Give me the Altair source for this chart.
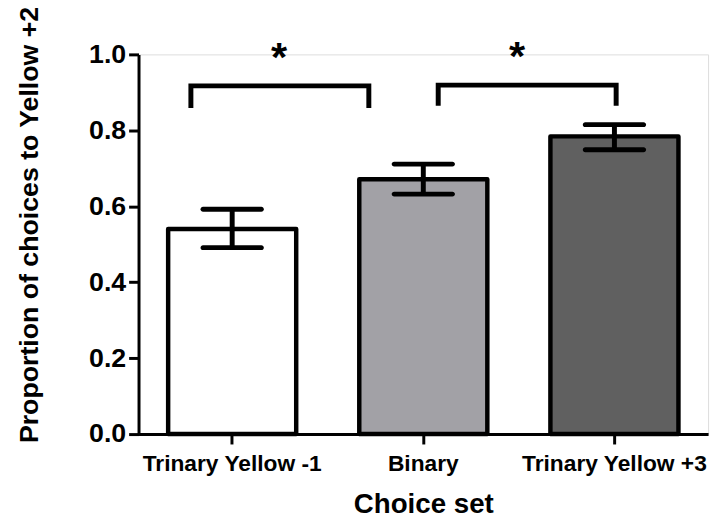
import altair as alt
import pandas as pd

# ---- data ----
categories = ["Trinary Yellow -1", "Binary", "Trinary Yellow +3"]
means = [0.540, 0.671, 0.784]
err_low = [0.491, 0.632, 0.749]
err_high = [0.592, 0.711, 0.815]
fills = ["#FFFFFF", "#A2A1A6", "#606060"]

# significance brackets (x in category-index units, 0 = first bar centre)
br_left = [-0.216, 1.078]
br_right = [0.715, 2.009]
br_top = [0.917, 0.919]
br_bottom = [0.859, 0.865]
star_x = [0.245, 1.491]
star_y = [0.955, 0.960]
star_text = ["*", "*"]

y_ticks = [0.0, 0.2, 0.4, 0.6, 0.8, 1.0]

FONT = "Liberation Sans"

bars_df = pd.DataFrame({"cat": categories, "mean": means, "lo": err_low, "hi": err_high})

br_rows = []
for i in range(len(br_left)):
    pts = [(br_left[i], br_bottom[i]), (br_left[i], br_top[i]),
           (br_right[i], br_top[i]), (br_right[i], br_bottom[i])]
    for k, (px, py) in enumerate(pts):
        br_rows.append({"b": i, "k": k, "px": px, "py": py})
br_df = pd.DataFrame(br_rows)
star_df = pd.DataFrame({"sx": star_x, "sy": star_y, "t": star_text})

xband = alt.X("cat:N", sort=categories,
              scale=alt.Scale(paddingInner=0.33, paddingOuter=0.155),
              axis=alt.Axis(title="Choice set", labelAngle=0, labelFontSize=23,
                            labelFontWeight="bold", labelFont=FONT, labelColor="black",
                            labelLimit=400,
                            titleFontSize=28, titleFontWeight="bold", titleFont=FONT,
                            titleColor="black", titlePadding=15,
                            tickSize=10, tickWidth=3, tickColor="black",
                            domainWidth=3, domainColor="black", labelPadding=9))
yscale = alt.Scale(domain=[0, 1])
yenc = alt.Y("mean:Q", scale=yscale,
             axis=alt.Axis(title="Proportion of choices to Yellow +2", values=y_ticks,
                           format=".1f", grid=False, labelFontSize=27,
                           labelFontWeight="bold", labelFont=FONT, labelColor="black",
                           titleFontSize=27, titleFontWeight="bold", titleFont=FONT,
                           titleColor="black", titlePadding=46, titleY=172,
                           tickSize=10, tickWidth=3, tickColor="black",
                           domainWidth=3, domainColor="black", labelPadding=3))

base = alt.Chart(bars_df)
bars = base.mark_bar(stroke="black", strokeWidth=4.5, strokeJoin="round").encode(
    x=xband, y=yenc,
    fill=alt.Fill("cat:N", scale=alt.Scale(domain=categories, range=fills), legend=None),
)
whisk = base.mark_rule(color="black", strokeWidth=5).encode(
    x=alt.X("cat:N", sort=categories), y=alt.Y("lo:Q", scale=yscale), y2="hi:Q")
cap_lo = base.mark_tick(color="black", orient="horizontal", size=64, thickness=5,
                        cornerRadius=2.5, opacity=1).encode(
    x=alt.X("cat:N", sort=categories), y=alt.Y("lo:Q", scale=yscale))
cap_hi = base.mark_tick(color="black", orient="horizontal", size=64, thickness=5,
                        cornerRadius=2.5, opacity=1).encode(
    x=alt.X("cat:N", sort=categories), y=alt.Y("hi:Q", scale=yscale))

main = alt.layer(bars, whisk, cap_lo, cap_hi)

xlin = alt.Scale(domain=[-0.49, 2.49], nice=False, zero=False)
brackets = alt.Chart(br_df).mark_line(color="black", strokeWidth=5, strokeJoin="miter",
                                      strokeCap="butt").encode(
    x=alt.X("px:Q", scale=xlin, axis=None),
    y=alt.Y("py:Q", scale=yscale),
    detail="b:N", order="k:Q")
stars = alt.Chart(star_df).mark_text(fontSize=42, fontWeight="bold", font=FONT,
                                     color="black", baseline="alphabetic").encode(
    x=alt.X("sx:Q", scale=xlin, axis=None),
    y=alt.Y("sy:Q", scale=yscale),
    text="t:N")
annot = alt.layer(brackets, stars)

chart = alt.layer(main, annot).resolve_scale(x="independent").properties(
    width=576, height=384,
    autosize=alt.AutoSizeParams(type="none"),
    padding={"left": 132, "top": 44, "right": 7, "bottom": 86},
).configure_view(stroke=None).configure(background="white")

chart.save("out.html", embed_options={"renderer": "svg", "actions": False})
